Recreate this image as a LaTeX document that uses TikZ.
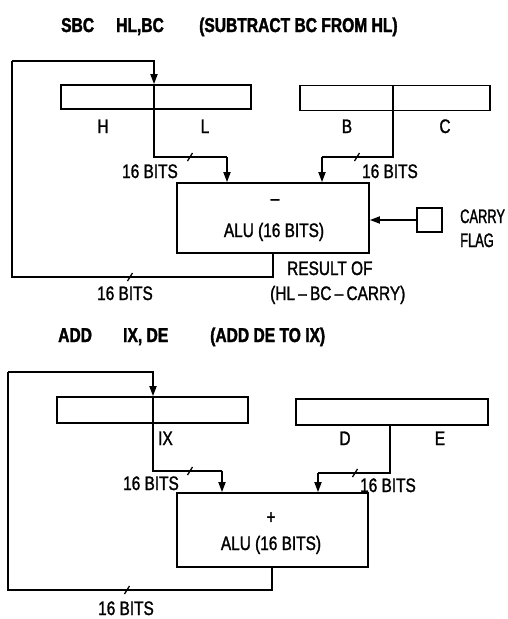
\documentclass[tikz,border=0pt]{standalone}
\usepackage{fontspec}
\usetikzlibrary{arrows.meta}
\newfontfamily\lblfam[FakeStretch=0.79,FakeBold=1.4]{Liberation Sans}
\newfontfamily\ttlfam[FakeStretch=0.78,FakeBold=1.8]{Liberation Sans Bold}
\newfontfamily\cfam[FakeStretch=0.66,FakeBold=1.4]{Liberation Sans}
\begin{document}
\begin{tikzpicture}[x=1pt,y=-1pt,
  wire/.style={line width=1.7pt},
  arr/.style={line width=1.7pt,-{Triangle[length=10pt,width=7pt]}},
  box/.style={draw,line width=1.7pt,rectangle,inner sep=0pt},
  lbl/.style={inner sep=0pt,font=\lblfam\fontsize{19.5}{22}\selectfont},
  clbl/.style={inner sep=0pt,font=\cfam\fontsize{19.5}{22}\selectfont},
  ttl/.style={inner sep=0pt,font=\ttlfam\fontsize{20}{22}\selectfont},
  tick/.style={line width=1.3pt}]
\useasboundingbox (0,0) rectangle (507,619);

% ---------------- top: SBC ----------------
\node[ttl,anchor=base west] (t1) at (61,32) {SBC};
\node[ttl,anchor=base west] (t2) at (116,32) {HL,BC};
\node[ttl,anchor=base west] (t3) at (199,32) {(SUBTRACT BC FROM HL)};

\node[box,minimum width=190,minimum height=24] (hl) at (156,97) {};
\node[box,minimum width=190,minimum height=25] (bc) at (395,98) {};
\node[box,minimum width=192,minimum height=70] (alu1) at (273,218) {};
\node[box,minimum width=25,minimum height=24] (cf) at (429.5,220) {};

\node[lbl,anchor=base] (lh) at (103,133) {H};
\node[lbl,anchor=base] (ll) at (205,133) {L};
\node[lbl,anchor=base] (lb) at (347,133) {B};
\node[lbl,anchor=base] (lc) at (445,133) {C};
\node[lbl,anchor=base] (b1) at (150,178) {16 BITS};
\node[lbl,anchor=base] (b2) at (390,178) {16 BITS};
\node[lbl] (minus) at (275,202) {–};
\node[lbl,anchor=base] (a1) at (274,237) {ALU (16 BITS)};
\node[clbl,anchor=base west] (carry) at (460,223) {CARRY};
\node[clbl,anchor=base west] (flag) at (460,247) {FLAG};
\node[lbl,anchor=base west] (res) at (287,275) {RESULT OF};
\node[lbl,anchor=base west] (expr) at (270,300) {(HL\,–\,BC\,–\,CARRY)};
\node[lbl,anchor=base] (b3) at (125,300) {16 BITS};

\coordinate (p1) at (12,61);
\coordinate (p2) at (154,61);
\coordinate (p3) at (154,157);
\coordinate (p4) at (227,157);
\coordinate (q1) at (393,85);
\coordinate (q2) at (393,157);
\coordinate (q3) at (322,157);
\coordinate (r1) at (273,277);
\coordinate (r2) at (12,277);

\draw[arr] (p1) -- (p2) -- (p2 |- hl.north);
\draw[wire] (p2 |- hl.north) -- (p3) -- (p4);
\draw[arr] (p4) -- (alu1.north -| p4);
\draw[wire] (bc.north -| q1) -- (q2) -- (q3);
\draw[arr] (q3) -- (alu1.north -| q3);
\draw[arr] (cf.west) -- (alu1.east |- cf.west);
\draw[wire] (alu1.south -| r1) -- (r1) -- (r2) -- (p1);

\coordinate (k1) at (190,157);
\coordinate (k2) at (357,157);
\coordinate (k3) at (130,277);
\foreach \k in {k1,k2,k3}
  \draw[tick] ([shift={(-2.5,4)}]\k) -- ([shift={(2.5,-4)}]\k);

% ---------------- bottom: ADD ----------------
\node[ttl,anchor=base west] (u1) at (58,342) {ADD};
\node[ttl,anchor=base west] (u2) at (123,342) {IX, DE};
\node[ttl,anchor=base west] (u3) at (210,342) {(ADD DE TO IX)};

\node[box,minimum width=191,minimum height=26] (ix) at (152.5,410) {};
\node[box,minimum width=192,minimum height=26] (de) at (392,412) {};
\node[box,minimum width=191,minimum height=74] (alu2) at (272.5,530) {};

\node[lbl,anchor=base west] (lix) at (158,445) {IX};
\node[lbl,anchor=base] (ld) at (345,445) {D};
\node[lbl,anchor=base] (le) at (440,445) {E};
\node[lbl,anchor=base] (c1) at (151,490) {16 BITS};
\node[lbl,anchor=base] (c2) at (388,492) {16 BITS};
\node[lbl] (plus) at (271,518) {+};
\node[lbl,anchor=base] (a2) at (271,550) {ALU (16 BITS)};
\node[lbl,anchor=base] (c3) at (126,615) {16 BITS};

\coordinate (s1) at (8,372);
\coordinate (s2) at (153,372);
\coordinate (s3) at (153,471);
\coordinate (s4) at (222,471);
\coordinate (v1) at (390,425);
\coordinate (v2) at (390,473);
\coordinate (v3) at (318,473);
\coordinate (w1) at (272,590);
\coordinate (w2) at (8,590);

\draw[arr] (s1) -- (s2) -- (s2 |- ix.north);
\draw[wire] (s2 |- ix.north) -- (s3) -- (s4);
\draw[arr] (s4) -- (alu2.north -| s4);
\draw[wire] (de.south -| v1) -- (v2) -- (v3);
\draw[arr] (v3) -- (alu2.north -| v3);
\draw[wire] (alu2.south -| w1) -- (w1) -- (w2) -- (s1);

\coordinate (m1) at (190,471);
\coordinate (m2) at (355,473);
\coordinate (m3) at (127,590);
\foreach \k in {m1,m2,m3}
  \draw[tick] ([shift={(-2.5,4)}]\k) -- ([shift={(2.5,-4)}]\k);
\end{tikzpicture}
\end{document}
